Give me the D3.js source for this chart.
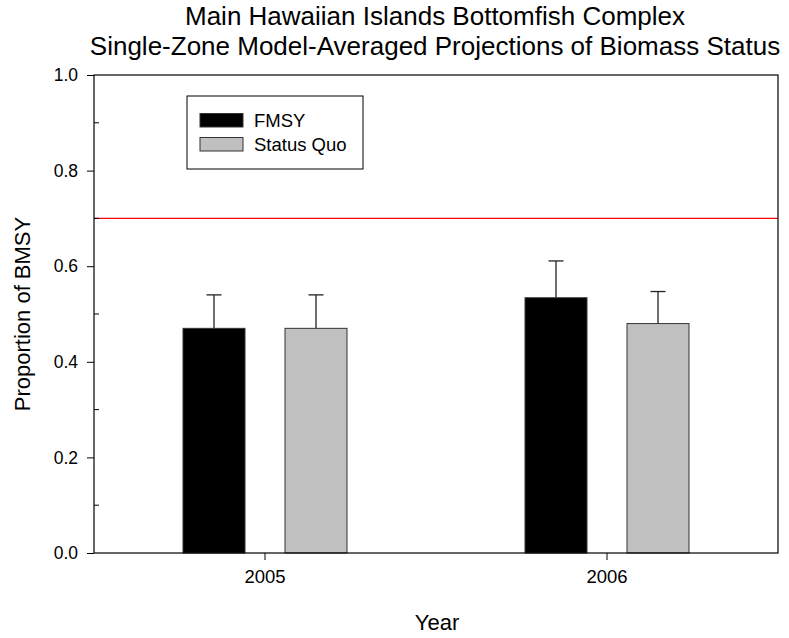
<!DOCTYPE html>
<html>
<head>
<meta charset="utf-8">
<script src="https://cdn.jsdelivr.net/npm/d3@7"></script>
<style>
  html, body { margin: 0; padding: 0; background: #fff; }
  svg { display: block; font-family: Arial, "Liberation Sans", sans-serif; }
</style>
</head>
<body>
<svg id="chart" width="789" height="638"></svg>
<script>
// Projected biomass status by year and harvest scenario
const years = ["2005", "2006"];
const seriesNames = ["FMSY", "Status Quo"];
const seriesColors = ["#000000", "#c0c0c0"];
const fmsyMean = [0.470, 0.534];
const fmsyUpper = [0.540, 0.611];
const statusQuoMean = [0.470, 0.480];
const statusQuoUpper = [0.540, 0.547];
const referenceLevel = 0.7;
const yTicks = [0.0, 0.2, 0.4, 0.6, 0.8, 1.0];
const yMinorTicks = [0.1, 0.3, 0.5, 0.7, 0.9];
const titleLines = ["Main Hawaiian Islands Bottomfish Complex",
                    "Single-Zone Model-Averaged Projections of Biomass Status"];

const svg = d3.select("#chart");
const plotLeft = 94, plotRight = 778, plotTop = 75, plotBottom = 553;
const fontFamily = "Arial, 'Liberation Sans', sans-serif";

const x = d3.scaleBand().domain(years).range([plotLeft, plotRight]).padding(0);
const y = d3.scaleLinear().domain([0, 1]).range([plotBottom, plotTop]);
const barW = 62, barGap = 40;

const series = [
  { name: seriesNames[0], color: seriesColors[0], mean: fmsyMean, upper: fmsyUpper, offset: -(barGap / 2 + barW) },
  { name: seriesNames[1], color: seriesColors[1], mean: statusQuoMean, upper: statusQuoUpper, offset: barGap / 2 }
];

// Title
svg.selectAll("text.title").data(titleLines).join("text")
  .attr("class", "title")
  .attr("x", 435)
  .attr("y", (d, i) => 25 + i * 30)
  .attr("text-anchor", "middle")
  .attr("font-size", 26)
  .attr("fill", "#000")
  .text(d => d);

// Bars with upper error whiskers
series.forEach(s => {
  const g = svg.append("g");
  years.forEach((yr, i) => {
    const x0 = x(yr) + x.bandwidth() / 2 + s.offset;
    const cx = x0 + barW / 2;
    g.append("line")
      .attr("x1", cx).attr("x2", cx)
      .attr("y1", y(s.mean[i])).attr("y2", y(s.upper[i]))
      .attr("stroke", "#222").attr("stroke-width", 1.3);
    g.append("line")
      .attr("x1", cx - 7.5).attr("x2", cx + 7.5)
      .attr("y1", y(s.upper[i])).attr("y2", y(s.upper[i]))
      .attr("stroke", "#222").attr("stroke-width", 1.3);
    g.append("rect")
      .attr("x", x0).attr("y", y(s.mean[i]))
      .attr("width", barW).attr("height", y(0) - y(s.mean[i]))
      .attr("fill", s.color)
      .attr("stroke", "#333").attr("stroke-width", 1);
  });
});

// Reference line
svg.append("line")
  .attr("x1", plotLeft).attr("x2", plotRight)
  .attr("y1", y(referenceLevel)).attr("y2", y(referenceLevel))
  .attr("stroke", "#ff0000").attr("stroke-width", 1.2);

// Frame
svg.append("rect")
  .attr("x", plotLeft).attr("y", plotTop)
  .attr("width", plotRight - plotLeft).attr("height", plotBottom - plotTop)
  .attr("fill", "none").attr("stroke", "#000").attr("stroke-width", 1.2);

// Y axis
const yAxis = d3.axisLeft(y).tickValues(yTicks).tickFormat(d3.format(".1f")).tickSizeOuter(0).tickSize(7).tickPadding(9);
const yg = svg.append("g").attr("transform", `translate(${plotLeft},0)`).call(yAxis);
yg.select(".domain").remove();
yg.selectAll(".tick line").attr("stroke", "#000");
yg.selectAll(".tick text").attr("font-size", 17.5).attr("fill", "#000").attr("font-family", fontFamily);

// Minor ticks point inward
svg.append("g").selectAll("line").data(yMinorTicks).join("line")
  .attr("x1", plotLeft).attr("x2", plotLeft + 5)
  .attr("y1", d => y(d)).attr("y2", d => y(d))
  .attr("stroke", "#000");

// X axis
const xAxis = d3.axisBottom(x).tickSizeOuter(0).tickSize(7).tickPadding(10);
const xg = svg.append("g").attr("transform", `translate(0,${plotBottom})`).call(xAxis);
xg.select(".domain").remove();
xg.selectAll(".tick line").attr("stroke", "#000");
xg.selectAll(".tick text").attr("font-size", 18.5).attr("fill", "#000").attr("font-family", fontFamily);

// Axis titles
svg.append("text")
  .attr("x", 437).attr("y", 630)
  .attr("text-anchor", "middle").attr("font-size", 22)
  .text("Year");
svg.append("text")
  .attr("transform", `translate(30,${(plotTop + plotBottom) / 2}) rotate(-90)`)
  .attr("text-anchor", "middle").attr("font-size", 22)
  .text("Proportion of BMSY");

// Legend
const lg = svg.append("g");
lg.append("rect")
  .attr("x", 187).attr("y", 96).attr("width", 176).attr("height", 73)
  .attr("fill", "#fff").attr("stroke", "#000").attr("stroke-width", 1);
series.forEach((s, i) => {
  lg.append("rect")
    .attr("x", 200).attr("y", 113.5 + i * 24).attr("width", 43).attr("height", 13.5)
    .attr("fill", s.color).attr("stroke", "#333").attr("stroke-width", 1);
  lg.append("text")
    .attr("x", 254).attr("y", 127.3 + i * 23.7)
    .attr("font-size", 18.5).attr("fill", "#000")
    .text(s.name);
});
</script>
</body>
</html>
